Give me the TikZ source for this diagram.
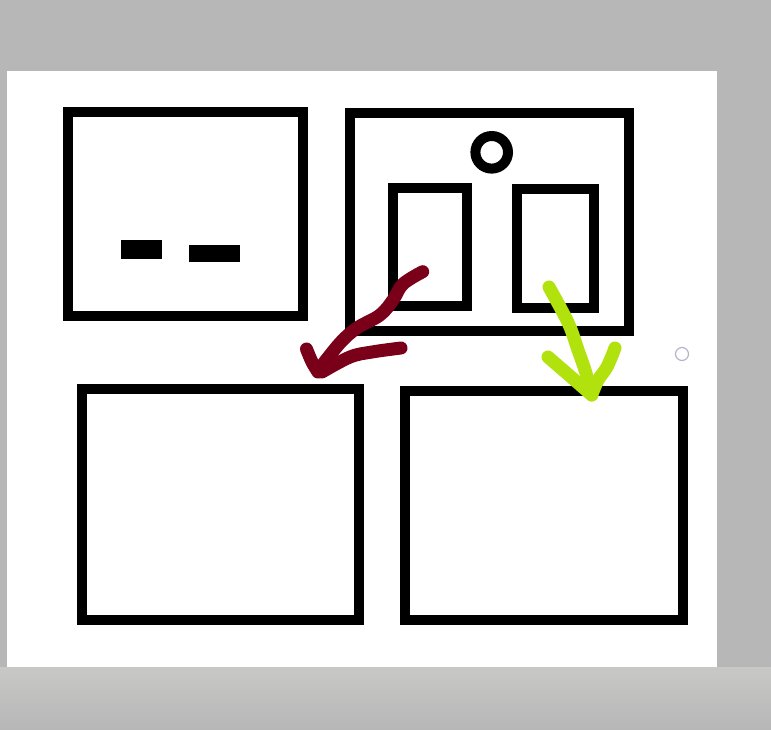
\documentclass[tikz,border=0pt]{standalone}
\begin{document}
\begin{tikzpicture}[x=1pt,y=-1pt,
  inner/.style={draw=black,line width=10pt},
  stroke/.style={line width=13pt,line cap=round,line join=round},
  redstroke/.style={stroke,draw=darkred},
  greenstroke/.style={stroke,draw=limegreen}]
\definecolor{bggray}{RGB}{182,183,182}
\definecolor{bglight}{RGB}{200,201,199}
\definecolor{darkred}{RGB}{122,0,25}
\definecolor{limegreen}{RGB}{178,226,14}
\definecolor{handle}{RGB}{180,180,204}
\useasboundingbox (0,0) rectangle (771,729);
% background
\fill[bggray] (0,0) rectangle (771,729);
\shade[top color=bglight,bottom color=bggray] (0,667) rectangle (771,729);
% canvas
\fill[white] (7,71) rectangle (717,667);
% top-left box
\draw[inner] (68,112) rectangle (302.5,315.5);
\fill[black] (121,240) rectangle (162,259);
\fill[black] (189,245) rectangle (240,262);
% top-right box
\draw[inner] (349.5,113) rectangle (629,330.5);
\draw[inner] (491.7,152.3) circle (16.3);
\draw[inner] (393,188) rectangle (466.7,305.7);
\draw[inner] (517.3,189) rectangle (594,307.7);
% bottom boxes
\draw[inner] (82,389) rectangle (359,620);
\draw[inner] (405,391) rectangle (682.7,620);
% red arrow
\draw[redstroke] plot[smooth,tension=0.6] coordinates {(422.7,271.7) (403,284) (393,300) (380,315) (357,328) (340,343) (320,368)};
\draw[redstroke] plot[smooth,tension=0.6] coordinates {(306.5,349) (312,362) (318,372)};
\draw[redstroke] plot[smooth,tension=0.6] coordinates {(401,348) (372,352) (350,357) (322,372)};
% green arrow
\draw[greenstroke] plot[smooth,tension=0.6] coordinates {(549,287) (560,307) (570,327) (578,350) (585,370) (591.7,394)};
\draw[greenstroke] plot[smooth,tension=0.6] coordinates {(548,357) (563,370) (578,383) (591.7,395)};
\draw[greenstroke] plot[smooth,tension=0.6] coordinates {(615,348) (607,367) (598,380) (591.7,395)};
% handle
\draw[handle,line width=1.2pt] (682,354) circle (6.5);
\end{tikzpicture}
\end{document}
